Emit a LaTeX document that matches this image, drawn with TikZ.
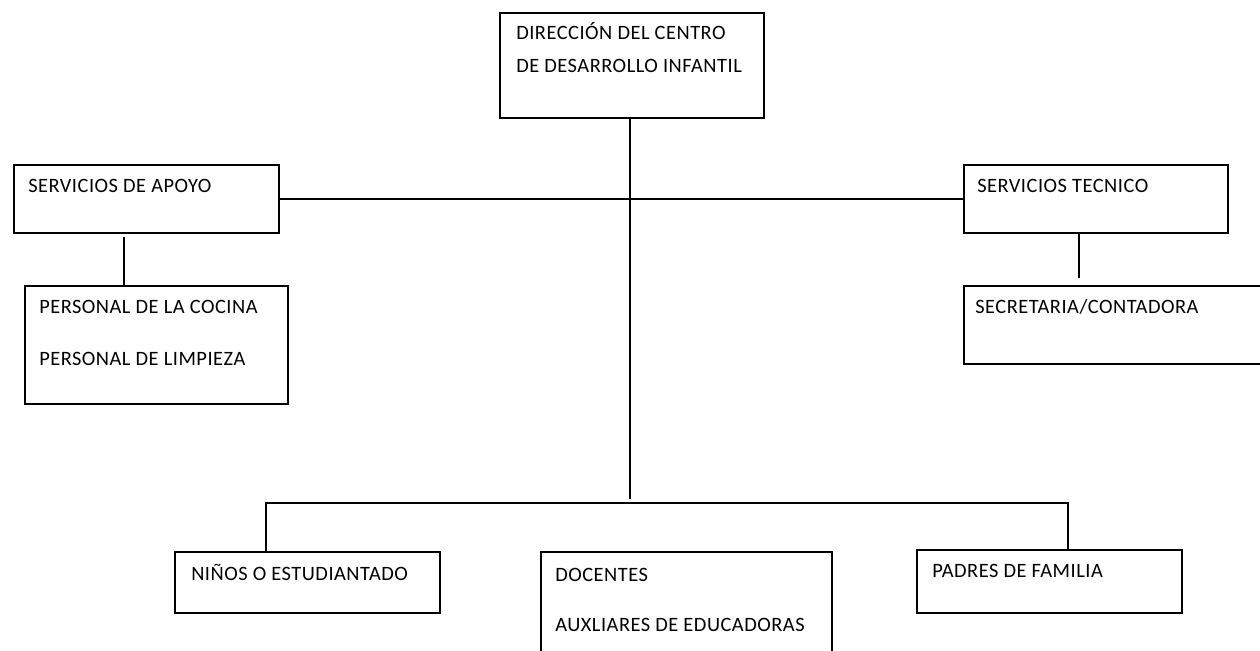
\documentclass[tikz,border=0pt]{standalone}
\usepackage{fontspec}
\setmainfont{Carlito}[LetterSpace=2.5]
\begin{document}
\begin{tikzpicture}[x=0.75pt,y=-0.75pt,
  orgbox/.style={draw=black,line width=1.2pt,fill=none,inner sep=0pt,anchor=north west},
  lbl/.style={anchor=base west,inner sep=0pt,font=\fontsize{15.3}{18}\selectfont,text=black},
  conn/.style={draw=black,line width=1.2pt}]
\useasboundingbox (0,0) rectangle (1260,650);
\clip (0,0) rectangle (1260,650);
% boxes
\node[orgbox,minimum width=264*0.75pt,minimum height=105*0.75pt] (dir) at (499,12) {};
\node[orgbox,minimum width=265*0.75pt,minimum height=68*0.75pt] (apoyo) at (13,164) {};
\node[orgbox,minimum width=263*0.75pt,minimum height=118*0.75pt] (personal) at (24,285) {};
\node[orgbox,minimum width=264*0.75pt,minimum height=68*0.75pt] (tecnico) at (963,164) {};
\node[orgbox,minimum width=320*0.75pt,minimum height=78*0.75pt] (secre) at (963,285) {};
\node[orgbox,minimum width=265*0.75pt,minimum height=61*0.75pt] (ninos) at (174,551) {};
\node[orgbox,minimum width=291*0.75pt,minimum height=120*0.75pt] (docentes) at (540,551) {};
\node[orgbox,minimum width=265*0.75pt,minimum height=63*0.75pt] (padres) at (916,549) {};
% texts
\node[lbl] (t1) at (516,39) {DIRECCIÓN DEL CENTRO};
\node[lbl] (t2) at (516,72) {DE DESARROLLO INFANTIL};
\node[lbl] (t3) at (28,192) {SERVICIOS DE APOYO};
\node[lbl] (t4) at (39,313) {PERSONAL DE LA COCINA};
\node[lbl] (t5) at (39,365) {PERSONAL DE LIMPIEZA};
\node[lbl] (t6) at (977,192) {SERVICIOS TECNICO};
\node[lbl] (t7) at (975,313) {SECRETARIA/CONTADORA};
\node[lbl] (t8) at (191,580) {NIÑOS O ESTUDIANTADO};
\node[lbl] (t9) at (555,581) {DOCENTES};
\node[lbl] (t10) at (555,631) {AUXLIARES DE EDUCADORAS};
\node[lbl] (t11) at (932,577) {PADRES DE FAMILIA};
% connector coordinates
\coordinate (vEnd) at (630,499);
\coordinate (barL) at (266,503);
\coordinate (barR) at (1068,503);
\coordinate (apoyoTop) at (124,237);
\coordinate (tecBot) at (1079,278);
% connectors
\draw[conn] (dir.south -| vEnd) -- (vEnd);
\draw[conn] (apoyo.east) -- (tecnico.west);
\draw[conn] (ninos.north -| barL) -- (barL) -- (barR) -- (padres.north -| barR);
\draw[conn] (apoyoTop) -- (personal.north -| apoyoTop);
\draw[conn] (tecnico.south -| tecBot) -- (tecBot);
\end{tikzpicture}
\end{document}
